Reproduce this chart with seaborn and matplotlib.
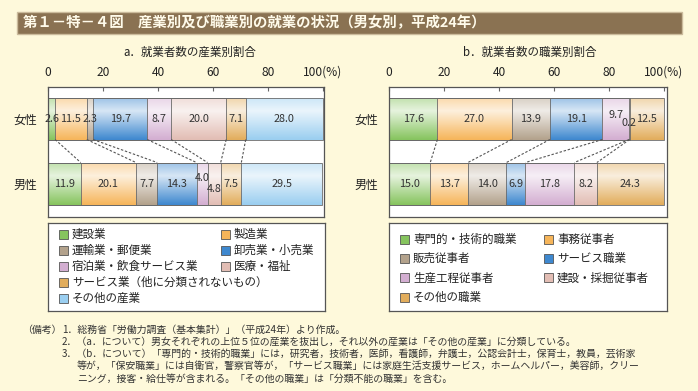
import numpy as np
import pandas as pd
import seaborn as sns
import matplotlib.pyplot as plt
from matplotlib.patches import Rectangle

sns.set_theme(style="white")
plt.rcParams['font.family'] = ['Noto Sans CJK JP', 'DejaVu Sans']

# --- data ---
sexes = ['女性', '男性']

industries = ['建設業', '製造業', '運輸業・郵便業', '卸売業・小売業',
              '宿泊業・飲食サービス業', '医療・福祉',
              'サービス業（他に分類されないもの）', 'その他の産業']
ind_female = [2.6, 11.5, 2.3, 19.7, 8.7, 20.0, 7.1, 28.0]
ind_male = [11.9, 20.1, 7.7, 14.3, 4.0, 4.8, 7.5, 29.5]

occupations = ['専門的・技術的職業', '事務従事者', '販売従事者', 'サービス職業',
               '生産工程従事者', '建設・採掘従事者', 'その他の職業']
occ_female = [17.6, 27.0, 13.9, 19.1, 9.7, 0.2, 12.5]
occ_male = [15.0, 13.7, 14.0, 6.9, 17.8, 8.2, 24.3]

ticks = [0, 20, 40, 60, 80, 100]
tick_labels = ['0', '20', '40', '60', '80', '100(%)']

# --- styling ---
BG = '#FEF9DB'
W, H = 698, 391
ind_colors = ['#86C45E', '#F6B55A', '#B3A28C', '#3E88CF',
              '#D3AED1', '#E2BDB4', '#E2AD5C', '#9ACEF0']
occ_colors = ['#86C45E', '#F6B55A', '#B3A28C', '#3E88CF',
              '#D3AED1', '#E2BDB4', '#E2AD5C']
BAR_H = 0.646
EDGE = '#6a6a6a'


def fx(px):
    return px / W


def fy(py):
    return 1 - py / H


def draw_panel(ax, female, male, colors, xmax, offsets):
    df = pd.DataFrame({'sex': sexes})
    vals = np.array([female, male])
    cum = np.cumsum(vals, axis=1)
    n = vals.shape[1]
    # stacked bars: draw cumulative totals from the longest to the shortest
    for i in reversed(range(n)):
        df['v'] = cum[:, i]
        sns.barplot(data=df, x='v', y='sex', orient='h', color=colors[i],
                    saturation=1, width=BAR_H, edgecolor='none', ax=ax)
    # soft gradient: whitish band in the upper part fading to the base colour
    t = np.linspace(0, 1, 80)
    grad = np.ones((80, 1, 4))
    grad[:, 0, 3] = np.interp(t, [0, 0.3, 1.0], [0.5, 0.8, 0.0])
    for j in range(2):
        ax.imshow(grad, extent=(0, cum[j, -1], j + BAR_H / 2, j - BAR_H / 2),
                  aspect='auto', zorder=1.5, interpolation='bilinear')
    for p in list(ax.patches):
        ax.add_patch(Rectangle(p.get_xy(), p.get_width(), p.get_height(),
                               fill=False, edgecolor=EDGE, lw=0.6, zorder=2))
    # value labels
    for j in range(2):
        starts = cum[j] - vals[j]
        for i in range(n):
            dy = offsets.get((j, i), 0)
            ax.text(starts[i] + vals[j, i] / 2, j + dy, f'{vals[j, i]:.1f}',
                    ha='center', va='center', fontsize=7.8, color='#333333',
                    zorder=3)
    # dashed connectors between the two bars
    for i in range(n - 1):
        ax.plot([cum[0, i], cum[1, i]], [BAR_H / 2, 1 - BAR_H / 2],
                ls=(0, (2.2, 1.6)), lw=0.8, color='#555555', zorder=2)
    ax.set_xlim(0, xmax)
    ax.set_ylim(1.515, -0.485)
    ax.set_facecolor('white')
    ax.xaxis.tick_top()
    ax.set_xticks(ticks)
    ax.set_xticklabels(tick_labels, fontsize=8.6, color='#222222')
    ax.tick_params(axis='x', direction='in', length=3, width=0.8,
                   color='#666666', pad=6, top=True, bottom=False)
    ax.tick_params(axis='y', length=0, pad=8, labelsize=8.6, labelcolor='#222222')
    ax.set_xlabel('')
    ax.set_ylabel('')
    for s in ax.spines.values():
        s.set_color('#555555')
        s.set_linewidth(0.9)


def draw_legend(fig, box, labels, colors, slots, cols_px, row0, row_step):
    lax = fig.add_axes(box)
    lax.set_xticks([])
    lax.set_yticks([])
    lax.set_facecolor('white')
    for s in lax.spines.values():
        s.set_color('#555555')
        s.set_linewidth(0.9)
    for lab, col, (c, r) in zip(labels, colors, slots):
        x = cols_px[c]
        y = row0 + r * row_step
        fig.patches.append(Rectangle((fx(x), fy(y + 4.5)), 9 / W, 9 / H,
                                     transform=fig.transFigure,
                                     facecolor=col, edgecolor='#555555',
                                     lw=0.6, zorder=5))
        fig.text(fx(x + 13), fy(y), lab, fontsize=8.3, color='#222222',
                 va='center', ha='left', zorder=5)


fig = plt.figure(figsize=(W / 100, H / 100), dpi=100, facecolor=BG)

# title bar
fig.patches.append(Rectangle((fx(17), fy(34)), 665 / W, 22 / H,
                             transform=fig.transFigure, facecolor='#8A7252',
                             edgecolor='#CBBB9C', lw=1.0))
fig.text(fx(23), fy(23), '第１－特－４図　産業別及び職業別の就業の状況（男女別，平成24年）',
         fontsize=10.4, fontweight='bold', color='#FFFBEA', va='center', ha='left')

fig.text(fx(123), fy(52), 'a．就業者数の産業別割合', fontsize=8.3,
         color='#222222', va='center')
fig.text(fx(463), fy(52), 'b．就業者数の職業別割合', fontsize=8.3,
         color='#222222', va='center')

ax_a = fig.add_axes([fx(48), fy(217), 276 / W, 130 / H])
ax_b = fig.add_axes([fx(389), fy(217), 278 / W, 130 / H])

draw_panel(ax_a, ind_female, ind_male, ind_colors, 100.36,
           {(1, 4): -0.08, (1, 5): 0.08})
draw_panel(ax_b, occ_female, occ_male, occ_colors, 101.1,
           {(0, 4): -0.06, (0, 5): 0.07})

draw_legend(fig, [fx(48), fy(311), 277 / W, 88 / H], industries, ind_colors,
            [(0, 0), (1, 0), (0, 1), (1, 1), (0, 2), (1, 2), (0, 3), (0, 4)],
            [59, 221], 234, 16)
draw_legend(fig, [fx(389), fy(311), 278 / W, 88 / H], occupations, occ_colors,
            [(0, 0), (1, 0), (0, 1), (1, 1), (0, 2), (1, 2), (0, 3)],
            [400, 544], 239, 19.4)

# notes
notes = [
    (22, '（備考）'),
    (62, '1．総務省「労働力調査（基本集計）」（平成24年）より作成。'),
    (62, '2．（a．について）男女それぞれの上位５位の産業を抜出し，それ以外の産業は「その他の産業」に分類している。'),
    (62, '3．（b．について）「専門的・技術的職業」には，研究者，技術者，医師，看護師，弁護士，公認会計士，保育士，教員，芸術家'),
    (77, '等が，「保安職業」には自衛官，警察官等が，「サービス職業」には家庭生活支援サービス，ホームヘルパー，美容師，クリー'),
    (77, 'ニング，接客・給仕等が含まれる。「その他の職業」は「分類不能の職業」を含む。'),
]
note_y = [330, 330, 342, 354, 366, 379]
for (x, t), y in zip(notes, note_y):
    fig.text(fx(x), fy(y), t, fontsize=7.15, color='#333333', va='center')

fig.savefig('out.png', dpi=100, facecolor=BG)
